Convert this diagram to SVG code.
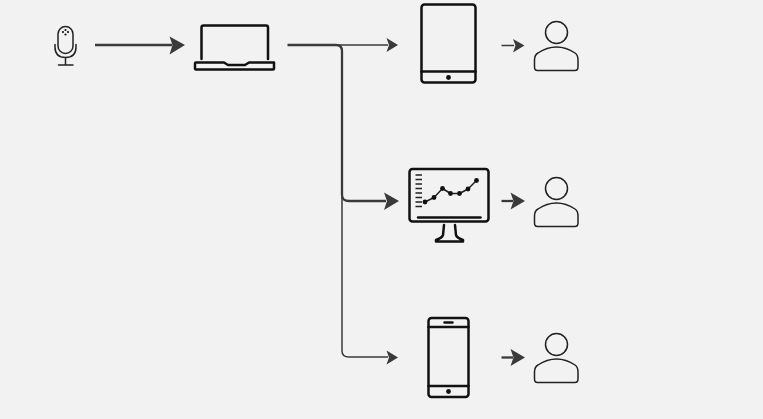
<svg xmlns="http://www.w3.org/2000/svg" width="763" height="419" viewBox="0 0 763 419">
<style>
.ic{fill:none;stroke:#111;stroke-width:2.5;stroke-linejoin:round;stroke-linecap:round}
.th{fill:none;stroke:#222;stroke-width:1.5;stroke-linejoin:round;stroke-linecap:round}
.ln{fill:none;stroke:#3a3a3a;stroke-linejoin:round}
.ah{fill:#3a3a3a;stroke:none}
.dot{fill:#111;stroke:none}
</style>
<rect width="763" height="419" fill="#f2f2f2"/>
<g id="connectors">
<path class="ln" stroke-width="2.300" d="M95 45H172"/>
<path class="ah" d="M169.500 36.500L185 45L169.500 54.500L172.500 45Z"/>
<path class="ln" stroke-width="2.300" d="M287.500 45H336Q342 45 342 51V195Q342 201 349 201H386"/>
<path class="ln" stroke-width="1.500" d="M336 45H388"/>
<path class="ah" d="M386.500 38L398 45L386.500 52L389 45Z"/>
<path class="ah" d="M384 192.500L399 201L384 210L387 201Z"/>
<path class="ln" stroke-width="1.500" d="M342 195V351Q342 357 349 357H388"/>
<path class="ah" d="M386.500 350.500L398 357.500L386.500 364.500L389 357.500Z"/>
<path class="ln" stroke-width="1.500" d="M501.500 45.500H514"/>
<path class="ah" d="M513 39L524.500 45.500L513 52.500L515.500 45.500Z"/>
<path class="ln" stroke-width="2.300" d="M501.500 201H513"/>
<path class="ah" d="M510.500 192.500L525 201L510.500 209.500L513.500 201Z"/>
<path class="ln" stroke-width="2.300" d="M501.500 357.500H513"/>
<path class="ah" d="M510.500 349L525 357.500L510.500 366L513.500 357.500Z"/>
</g>
<g id="microphone">
<rect class="th" x="58" y="26.500" width="15" height="27" rx="7.500"/>
<path class="th" d="M55 44.500V47Q55 57.500 65.500 57.500Q76 57.500 76 47V44.500M65.500 57.500V65M58.500 65H73"/>
<circle class="dot" cx="65.500" cy="30" r="1.100"/><circle class="dot" cx="63" cy="32" r="1.100"/><circle class="dot" cx="68" cy="32" r="1.100"/><circle class="dot" cx="65.500" cy="34.500" r="1.100"/>
</g>
<g id="laptop">
<path class="ic" d="M201.500 59V27.500Q201.500 25.500 203.500 25.500H266Q268 25.500 268 27.500V59"/>
<path class="ic" d="M196 62.500H224L228 65H245L249 62.500H274V68.500Q274 69.500 273 69.500H196Q195 69.500 195 68.500V63.500Q195 62.500 196 62.500Z"/>
</g>
<g id="tablet">
<rect class="ic" x="421.500" y="4.500" width="54" height="78" rx="3"/>
<path class="ic" d="M421.500 71.500H475.500"/>
<circle class="dot" cx="448.500" cy="77.500" r="2.400"/>
</g>
<g id="monitor">
<rect class="ic" x="409.500" y="169" width="79" height="52.500" rx="3"/>
<path class="ic" d="M418 217.500H480.500"/>
<path d="M415.500 175H422M415.500 179.500H422M415.500 184H422M415.500 188.500H422M415.500 193H422M415.500 197.500H422M415.500 202H422M415.500 206.500H422" stroke="#222" stroke-width="1.500" fill="none"/>
<path class="th" d="M425 202L434 197.500L442.500 188.500L450.500 193.500L459.500 193.500L468 189L476.500 180.500"/>
<g class="dot"><circle cx="425" cy="202" r="2.400"/><circle cx="434" cy="197.500" r="2.400"/><circle cx="442.500" cy="188.500" r="2.400"/><circle cx="450.500" cy="193.500" r="2.400"/><circle cx="459.500" cy="193.500" r="2.400"/><circle cx="468" cy="189" r="2.400"/><circle cx="476.500" cy="180.500" r="2.400"/></g>
<path class="ic" d="M444 225L443 235Q442 238 436 240V241.500H463V240Q457 238 456 235L455 225"/>
</g>
<g id="phone">
<rect class="ic" x="428.500" y="318" width="40" height="79" rx="3"/>
<path class="ic" d="M428.500 327H468.500M428.500 386H468.500M444.500 322.500H452.500"/>
<circle class="dot" cx="448.500" cy="391.500" r="2.400"/>
</g>
<g id="user-1">
<circle class="th" cx="556.500" cy="32.500" r="11"/>
<path class="th" d="M534.500 67V60Q534.500 55 538 53Q547 47 556.500 47Q566 47 575 53Q578 55 578 60V67Q578 70.500 575 70.500H537.500Q534.500 70.500 534.500 67Z"/>
</g>
<g id="user-2">
<circle class="th" cx="556.500" cy="188.500" r="11"/>
<path class="th" d="M534.500 223V216Q534.500 211 538 209Q547 203 556.500 203Q566 203 575 209Q578 211 578 216V223Q578 226.500 575 226.500H537.500Q534.500 226.500 534.500 223Z"/>
</g>
<g id="user-3">
<circle class="th" cx="556.500" cy="344.500" r="11"/>
<path class="th" d="M534.500 379V372Q534.500 367 538 365Q547 359 556.500 359Q566 359 575 365Q578 367 578 372V379Q578 382.500 575 382.500H537.500Q534.500 382.500 534.500 379Z"/>
</g>
</svg>
